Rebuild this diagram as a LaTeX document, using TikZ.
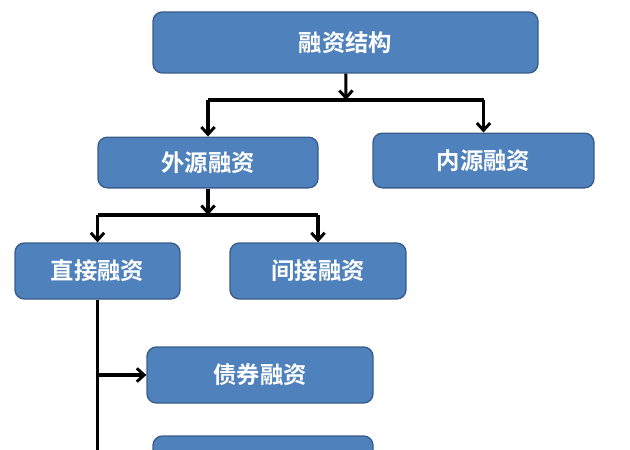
\documentclass[tikz,border=0pt]{standalone}
\usepackage{fontspec}
\newfontfamily\cjk{Noto Sans CJK SC}[BoldFont={Noto Sans CJK SC Bold}]
\usetikzlibrary{arrows.meta}
\definecolor{boxfill}{HTML}{4F81BD}
\definecolor{boxline}{HTML}{385D8A}

\begin{document}
\begin{tikzpicture}[x=0.75pt,y=-0.75pt,
  box/.style={draw=boxline, fill=boxfill, line width=1pt, rounded corners=7pt,
    text=white, font=\cjk\bfseries\fontsize{17.5}{20}\selectfont, inner sep=0pt},
  wire/.style={line width=2.3pt},
  conn/.style={wire, -{Straight Barb[length=5.5pt,width=10pt,line width=2.2pt]}}]
  \useasboundingbox (0,0) rectangle (630,449);
  \clip (0,0) rectangle (630,449);
  \node[box, minimum width=288.75pt, minimum height=45.75pt] (jiegou) at (345.5,42.5) {融资结构};
  \node[box, minimum width=165pt, minimum height=38pt] (waiyuan) at (208,162.5) {外源融资};
  \node[box, minimum width=165.75pt, minimum height=41pt] (neiyuan) at (483.5,160.5) {内源融资};
  \node[box, minimum width=123.75pt, minimum height=42pt] (zhijie) at (97.5,271) {直接融资};
  \node[box, minimum width=132pt, minimum height=42pt] (jianjie) at (318,271) {间接融资};
  \node[box, minimum width=169.5pt, minimum height=42pt] (zhaiquan) at (260,375) {债券融资};
  \node[box, minimum width=165pt, minimum height=42pt] (next) at (263,464) {};
  \coordinate (j1) at (346,100);
  \coordinate (j2) at (208,215);
  \coordinate (bot) at (97.5,470);
  % top level
  \draw[conn] (jiegou) -- (j1);
  \draw[wire] (waiyuan |- j1) -- (neiyuan |- j1);
  \draw[conn] (waiyuan |- j1) -- (waiyuan);
  \draw[conn] (neiyuan |- j1) -- (neiyuan);
  % outside funding
  \draw[conn] (waiyuan) -- (j2);
  \draw[wire] (zhijie |- j2) -- (jianjie |- j2);
  \draw[conn] (zhijie |- j2) -- (zhijie);
  \draw[conn] (jianjie |- j2) -- (jianjie);
  % direct funding
  \draw[wire] (zhijie) -- (bot);
  \draw[conn] (zhijie |- zhaiquan) -- (zhaiquan);
  \draw[conn] (zhijie |- next) -- (next);
\end{tikzpicture}
\end{document}
